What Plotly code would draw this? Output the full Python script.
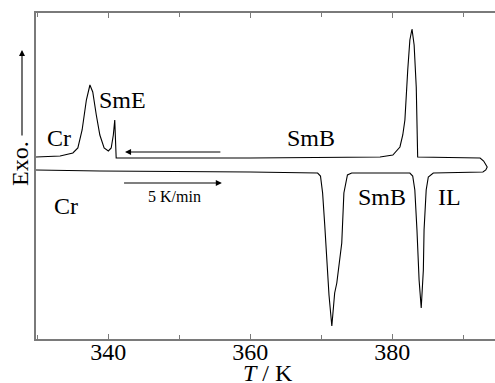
import plotly.graph_objects as go

# Heating run (lower trace), T in K, heat flow in arbitrary units (exo up)
heat_T = [329.8, 338.8, 360.0, 369.5, 369.9, 370.2, 370.5, 370.8, 371.1, 371.5,
          371.8, 371.9, 372.2, 372.6, 372.9, 373.2, 373.5, 373.7, 374.3,
          382.5, 382.9, 383.2, 383.5, 383.8, 384.1, 384.4, 384.5, 384.8, 385.1,
          385.8, 392.8, 393.2]
heat_y = [169, 168, 167, 166, 163, 146, 114, 79, 44, 13,
          39, 46, 56, 77, 96, 146, 159, 164, 166,
          166, 163, 149, 109, 59, 31, 69, 109, 149, 162,
          166, 167, 169]

# Cooling run (upper trace), listed from high T back to low T
cool_T = [393.4, 392.9, 392.4, 383.7, 383.6, 383.4, 383.1, 382.8, 382.5, 382.2,
          381.8, 381.5, 381.1, 380.1, 378.3, 360.0, 341.2, 341.1, 340.9, 340.7,
          340.4, 340.0, 339.4, 338.8, 338.3, 337.8, 337.4, 336.9, 336.3, 335.7,
          335.0, 333.2, 329.8]
cool_y = [172, 178, 181, 181.5, 182, 252, 294, 310, 299, 269,
          219, 204, 192, 184, 182, 181, 180.5, 181, 219, 204,
          191, 188, 191, 204, 224, 247, 254, 239, 209, 191,
          186, 183, 182]

labels = ["Cr", "SmE", "SmB", "Cr", "SmB", "IL", "5 K/min"]
label_T = [333.06, 341.94, 368.55, 334.04, 378.55, 388.13, 349.39]
label_y = [201, 239, 201, 133, 142, 142, 143]
label_size = [24, 24, 24, 24, 24, 24, 16]

x_ticks = [340, 360, 380]

FONT = "Liberation Serif, Times New Roman, serif"
AXC = "#7a7a7a"
W, H = 495, 383
L, R, T, B = 36, 0, 13, 44
PW, PH = W - L - R, H - T - B


def px(xp):
    return (xp - L) / PW


def py(yp):
    return (H - B - yp) / PH


fig = go.Figure()
fig.add_trace(go.Scatter(x=heat_T + cool_T, y=heat_y + cool_y, mode="lines",
                         line=dict(color="black", width=1.1), hoverinfo="skip",
                         showlegend=False))

for t, x, y, s in zip(labels, label_T, label_y, label_size):
    fig.add_annotation(x=x, y=y, text=t, showarrow=False,
                       xanchor="center", yanchor="middle",
                       font=dict(family=FONT, size=s, color="black"))

# direction arrows
fig.add_annotation(x=342.35, y=187, ax=356.0, ay=187, axref="x", ayref="y",
                   xref="x", yref="y", text="", showarrow=True,
                   arrowhead=2, arrowsize=1.1, arrowwidth=1.1, arrowcolor="black")
fig.add_annotation(x=356.0, y=156, ax=342.0, ay=156, axref="x", ayref="y",
                   xref="x", yref="y", text="", showarrow=True,
                   arrowhead=2, arrowsize=1.1, arrowwidth=1.1, arrowcolor="black")

# Exo. label with arrow
fig.add_annotation(xref="paper", yref="paper", x=px(22), y=py(50),
                   ax=0, ay=87, text="", showarrow=True, arrowhead=2,
                   arrowsize=1.1, arrowwidth=1.1, arrowcolor="black")
fig.add_annotation(xref="paper", yref="paper", x=px(20), y=py(164),
                   xanchor="center", yanchor="middle",
                   text="Exo.", textangle=-90, showarrow=False,
                   font=dict(family=FONT, size=24, color="black"))
# x-axis title
fig.add_annotation(xref="paper", yref="paper", x=px(268), y=py(373),
                   xanchor="center", yanchor="middle",
                   text="<i>T</i> / K", showarrow=False,
                   font=dict(family=FONT, size=24, color="black"))

fig.update_layout(
    width=W, height=H,
    margin=dict(l=L, r=R, t=T, b=B, autoexpand=False),
    paper_bgcolor="white", plot_bgcolor="white",
    font=dict(family=FONT, size=24, color="black"),
    xaxis=dict(range=[329.8, 394.5], tickvals=x_ticks, ticks="inside", ticklen=5,
               tickwidth=1.2, tickcolor=AXC, showline=True, linecolor=AXC,
               linewidth=1.5, mirror="ticks", showgrid=False, zeroline=False,
               automargin=False, ticklabelstandoff=-10,
               minor=dict(dtick=20, tick0=350, ticks="inside", ticklen=4,
                          tickcolor=AXC, tickwidth=1.2, showgrid=False),
               tickfont=dict(family=FONT, size=24)),
    yaxis=dict(range=[0, 326], showticklabels=False, ticks="", showline=True,
               linecolor=AXC, linewidth=1.5, showgrid=False, zeroline=False,
               automargin=False),
)

fig.write_html("out.html", config={"displayModeBar": False},
               post_script="document.body.style.margin='0px';"
                           "document.body.style.overflow='hidden';")
